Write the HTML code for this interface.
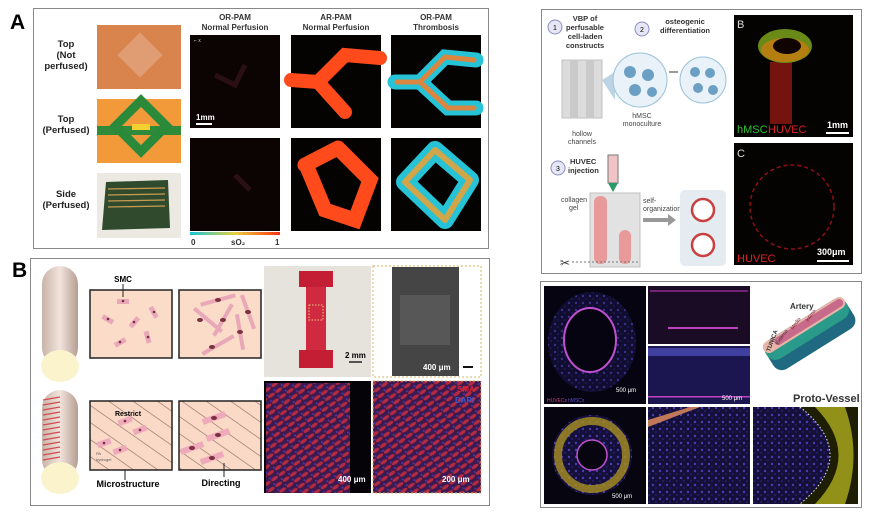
<!DOCTYPE html>
<html><head><meta charset="utf-8"><style>
html,body{margin:0;padding:0;background:#fff;width:890px;height:515px;overflow:hidden}
svg{display:block}
text{font-family:"Liberation Sans",Arial,sans-serif}
</style></head><body>
<svg width="890" height="515" viewBox="0 0 890 515" xmlns="http://www.w3.org/2000/svg">
<defs>
<linearGradient id="cbar" x1="0" x2="1"><stop offset="0" stop-color="#19c2d8"/><stop offset=".5" stop-color="#e8d040"/><stop offset="1" stop-color="#ff3010"/></linearGradient>
<linearGradient id="cyl" x1="0" x2="1"><stop offset="0" stop-color="#c9b3a8"/><stop offset=".5" stop-color="#f1e4dc"/><stop offset="1" stop-color="#b59d92"/></linearGradient>
<pattern id="diag" width="14" height="14" patternUnits="userSpaceOnUse" patternTransform="rotate(35)"><rect width="14" height="14" fill="#fad9c6"/><line x1="0" y1="0" x2="14" y2="0" stroke="#8a6a60" stroke-width="1.2"/></pattern>
<pattern id="cells" width="9" height="7" patternUnits="userSpaceOnUse" patternTransform="rotate(-35)"><rect width="9" height="7" fill="#3a1a50"/><ellipse cx="4.5" cy="3.5" rx="4" ry="1.8" fill="#b42a40"/><circle cx="1" cy="1" r="1" fill="#4a3ab0"/></pattern>
<pattern id="dots" width="7" height="7" patternUnits="userSpaceOnUse"><rect width="7" height="7" fill="#15103a"/><circle cx="2" cy="2" r="1.2" fill="#4a3cb0"/><circle cx="5" cy="5" r=".8" fill="#3028 90"/></pattern>
<pattern id="dots2" width="7" height="7" patternUnits="userSpaceOnUse"><rect width="7" height="7" fill="#15103a"/><circle cx="2" cy="2" r="1.2" fill="#4a3cb0"/><circle cx="5" cy="5" r=".8" fill="#302890"/></pattern>
</defs>

<!-- ===== Panel A ===== -->
<text x="10" y="29" font-size="21" font-weight="bold">A</text>
<rect x="33.5" y="8.5" width="455" height="240" fill="#fff" stroke="#888"/>
<g font-size="9.5" font-weight="bold" text-anchor="middle" fill="#222">
<text x="66" y="47">Top</text><text x="66" y="58">(Not</text><text x="66" y="69">perfused)</text>
<text x="66" y="122">Top</text><text x="66" y="133">(Perfused)</text>
<text x="66" y="197">Side</text><text x="66" y="208">(Perfused)</text>
</g>
<rect x="97" y="25" width="84" height="64" fill="#d8844c"/>
<rect x="124" y="39" width="32" height="32" transform="rotate(45 140 55)" fill="#e4a886" opacity=".7"/>
<rect x="97" y="99" width="84" height="64" fill="#f29a3a"/>
<rect x="97" y="126" width="84" height="9" fill="#2f8a3a"/>
<rect x="123" y="108" width="36" height="36" transform="rotate(45 141 126)" fill="none" stroke="#2a8a3a" stroke-width="9"/>
<rect x="132" y="124" width="18" height="6" fill="#f6d030"/>
<rect x="97" y="173" width="84" height="65" fill="#ece8e2"/>
<polygon points="106,182 168,180 170,228 102,230" fill="#2f4a2c"/>
<g stroke="#c89a50" stroke-width="1.3"><line x1="108" y1="189" x2="165" y2="188"/><line x1="108" y1="195" x2="165" y2="194"/><line x1="108" y1="201" x2="165" y2="200"/><line x1="108" y1="207" x2="165" y2="206"/></g>

<g font-size="8" font-weight="bold" text-anchor="middle" fill="#333">
<text x="235" y="20">OR-PAM</text><text x="235" y="30">Normal Perfusion</text>
<text x="336" y="20">AR-PAM</text><text x="336" y="30">Normal Perfusion</text>
<text x="436" y="20">OR-PAM</text><text x="436" y="30">Thrombosis</text>
</g>
<rect x="190" y="35" width="90" height="93" fill="#0c0303"/>
<path d="M215 75 L235 85 L245 65" stroke="#2a1014" stroke-width="5" fill="none"/>
<text x="194" y="42" font-size="5" fill="#ccc">⌐ x</text>
<line x1="196" y1="124" x2="212" y2="124" stroke="#fff" stroke-width="2"/>
<text x="196" y="120" font-size="8" font-weight="bold" fill="#fff">1mm</text>
<rect x="291" y="35" width="90" height="93" fill="#050202"/>
<path d="M291 80 L318 82 L345 55 L380 58 M318 82 L345 112" stroke="#ff4a1c" stroke-width="14" fill="none" stroke-linecap="round"/>
<rect x="391" y="35" width="90" height="93" fill="#050202"/>
<path d="M395 82 L420 82 L445 57 L476 60 M420 82 L448 108 L476 108" stroke="#26c2d6" stroke-width="15" fill="none" stroke-linecap="round"/>
<path d="M397 82 L420 82 L445 57 L474 60 M420 82 L448 108 L474 108" stroke="#f08030" stroke-width="5" fill="none" stroke-linecap="round" opacity=".9"/>
<rect x="190" y="138" width="90" height="93" fill="#0c0303"/>
<path d="M235 175 L250 190" stroke="#2a1014" stroke-width="5"/>
<rect x="291" y="138" width="90" height="93" fill="#050202"/>
<path d="M305 165 L338 148 M307 167 L325 210 L355 220 L370 180 L340 150" stroke="#ff4a1c" stroke-width="15" fill="none" stroke-linecap="round"/>
<rect x="391" y="138" width="90" height="93" fill="#050202"/>
<path d="M405 182 L435 150 L470 180 L445 220 Z" stroke="#26c2d6" stroke-width="18" fill="none" stroke-linejoin="round"/>
<path d="M405 182 L435 150 L470 180 L445 220 Z" stroke="#f0a030" stroke-width="6" fill="none" stroke-linejoin="round" opacity=".85"/>
<rect x="190" y="232" width="90" height="3" fill="url(#cbar)"/>
<g font-size="8" font-weight="bold" fill="#333"><text x="191" y="245">0</text><text x="231" y="245">sO₂</text><text x="275" y="245">1</text></g>

<!-- ===== Panel B ===== -->
<text x="12" y="277" font-size="21" font-weight="bold">B</text>
<rect x="30.5" y="258.5" width="459" height="247" fill="#fff" stroke="#888"/>
<rect x="42" y="266" width="36" height="100" rx="18" fill="url(#cyl)"/>
<ellipse cx="60" cy="366" rx="19" ry="16" fill="#fbf3cc"/>
<rect x="42" y="390" width="36" height="88" rx="18" fill="url(#cyl)"/>
<g stroke="#d24a50" stroke-width="1.2">
<line x1="43" y1="400" x2="60" y2="397"/><line x1="43" y1="405" x2="60" y2="402"/><line x1="43" y1="410" x2="60" y2="407"/><line x1="43" y1="415" x2="60" y2="412"/><line x1="43" y1="420" x2="60" y2="417"/><line x1="43" y1="425" x2="60" y2="422"/><line x1="43" y1="430" x2="60" y2="427"/><line x1="43" y1="435" x2="60" y2="432"/><line x1="43" y1="440" x2="60" y2="437"/><line x1="43" y1="445" x2="60" y2="442"/><line x1="43" y1="450" x2="60" y2="447"/><line x1="43" y1="455" x2="60" y2="452"/><line x1="43" y1="460" x2="60" y2="457"/></g>
<ellipse cx="60" cy="478" rx="19" ry="16" fill="#fbf3cc"/>
<rect x="90" y="290" width="82" height="68" fill="#fbdcc8" stroke="#222" stroke-width="1.5"/>
<rect x="179" y="290" width="82" height="68" fill="#fbdcc8" stroke="#222" stroke-width="1.5"/>
<g fill="#e8a8b8"><rect x="117" y="299" width="12" height="5"/><rect x="102" y="317" width="12" height="5" transform="rotate(30 108 319)"/><rect x="128" y="320" width="12" height="5" transform="rotate(-50 134 322)"/><rect x="148" y="310" width="12" height="5" transform="rotate(60 154 312)"/><rect x="114" y="340" width="12" height="5" transform="rotate(-30 120 342)"/><rect x="142" y="335" width="12" height="5" transform="rotate(75 148 337)"/></g>
<g fill="#7a3040"><circle cx="123" cy="301" r="1.3"/><circle cx="108" cy="319" r="1.3"/><circle cx="134" cy="322" r="1.3"/><circle cx="154" cy="312" r="1.3"/><circle cx="120" cy="342" r="1.3"/><circle cx="148" cy="337" r="1.3"/></g>
<g fill="#e8a8b8"><rect x="200" y="298" width="36" height="4" transform="rotate(-15 218 300)"/><rect x="190" y="318" width="36" height="4" transform="rotate(40 208 320)"/><rect x="205" y="318" width="36" height="4" transform="rotate(-60 223 320)"/><rect x="230" y="310" width="36" height="4" transform="rotate(70 248 312)"/><rect x="200" y="343" width="36" height="4" transform="rotate(-30 218 345)"/><rect x="222" y="330" width="36" height="4" transform="rotate(80 240 332)"/></g>
<g fill="#7a3040"><ellipse cx="218" cy="300" rx="3" ry="2"/><ellipse cx="200" cy="320" rx="3" ry="2"/><ellipse cx="223" cy="320" rx="3" ry="2"/><ellipse cx="248" cy="312" rx="3" ry="2"/><ellipse cx="212" cy="347" rx="3" ry="2"/><ellipse cx="240" cy="332" rx="3" ry="2"/></g>
<text x="123" y="282" font-size="8" font-weight="bold" text-anchor="middle">SMC</text>
<line x1="123" y1="284" x2="123" y2="297" stroke="#222"/>
<rect x="90" y="401" width="82" height="69" fill="url(#diag)" stroke="#222" stroke-width="1.5"/>
<rect x="179" y="401" width="82" height="69" fill="url(#diag)" stroke="#222" stroke-width="1.5"/>
<g fill="#eeaabb"><rect x="118" y="418" width="14" height="6" transform="rotate(-20 125 421)"/><rect x="133" y="427" width="14" height="6" transform="rotate(-20 140 430)"/><rect x="97" y="440" width="14" height="6" transform="rotate(-20 104 443)"/><rect x="113" y="447" width="14" height="6" transform="rotate(-20 120 450)"/>
<rect x="202" y="415" width="24" height="6" transform="rotate(-20 214 418)"/><rect x="206" y="432" width="24" height="6" transform="rotate(-20 218 435)"/><rect x="180" y="445" width="24" height="6" transform="rotate(-20 192 448)"/><rect x="200" y="455" width="24" height="6" transform="rotate(-20 212 458)"/></g>
<g fill="#7a3040"><circle cx="125" cy="421" r="1.3"/><circle cx="140" cy="430" r="1.3"/><circle cx="104" cy="443" r="1.3"/><circle cx="120" cy="450" r="1.3"/><ellipse cx="214" cy="418" rx="3" ry="2"/><ellipse cx="218" cy="435" rx="3" ry="2"/><ellipse cx="192" cy="448" rx="3" ry="2"/><ellipse cx="212" cy="458" rx="3" ry="2"/></g>
<text x="128" y="416" font-size="7" font-weight="bold" text-anchor="middle">Restrict</text>
<text x="96" y="455" font-size="4" fill="#555">PA</text><text x="96" y="461" font-size="4" fill="#555">hydrogel</text>
<text x="128" y="487" font-size="9" font-weight="bold" text-anchor="middle">Microstructure</text>
<line x1="125" y1="470" x2="125" y2="480" stroke="#222"/>
<text x="221" y="486" font-size="9" font-weight="bold" text-anchor="middle">Directing</text>
<line x1="224" y1="463" x2="224" y2="477" stroke="#222"/>
<rect x="264" y="266" width="107" height="111" fill="#e6e3dd"/>
<rect x="306" y="282" width="20" height="76" fill="#cf2a40"/>
<rect x="299" y="271" width="34" height="16" fill="#c41e34"/><rect x="299" y="350" width="34" height="18" fill="#c41e34"/>
<rect x="309" y="305" width="14" height="15" fill="none" stroke="#e8c880" stroke-dasharray="1.5 1.5"/>
<line x1="349" y1="362" x2="362" y2="362" stroke="#222" stroke-width="1.5"/>
<text x="345" y="358" font-size="8" font-weight="bold">2 mm</text>
<rect x="373" y="266" width="108" height="111" fill="#fff" stroke="#d6b46a" stroke-dasharray="2 2"/>
<rect x="392" y="267" width="67" height="109" fill="#454545"/>
<rect x="400" y="295" width="50" height="50" fill="#6a6a6a" opacity=".5"/>
<text x="423" y="370" font-size="8" font-weight="bold" fill="#fff">400 μm</text>
<line x1="463" y1="367" x2="473" y2="367" stroke="#111" stroke-width="2"/>
<rect x="264" y="381" width="107" height="112" fill="#050208"/>
<rect x="266" y="383" width="84" height="110" fill="url(#cells)"/>
<rect x="373" y="381" width="108" height="112" fill="url(#cells)" stroke="#d6b46a" stroke-dasharray="2 2"/>
<text x="457" y="392" font-size="8" font-weight="bold" fill="#e02030">SMA</text>
<text x="455" y="403" font-size="8" font-weight="bold" fill="#3a5ad0">DAPI</text>
<text x="338" y="482" font-size="8" font-weight="bold" fill="#fff">400 μm</text>
<text x="442" y="482" font-size="8" font-weight="bold" fill="#fff">200 μm</text>

<!-- ===== Panel C ===== -->
<text x="545" y="28" font-size="21" font-weight="bold">C</text>
<rect x="541.5" y="9.5" width="320" height="264" fill="#fff" stroke="#888"/>
<circle cx="555" cy="27" r="7" fill="#e6e6f6" stroke="#8b8bc0"/><text x="555" y="30" font-size="7" text-anchor="middle">1</text>
<g font-size="7.5" font-weight="bold" text-anchor="middle" fill="#333"><text x="585" y="21">VBP of</text><text x="585" y="30">perfusable</text><text x="585" y="39">cell-laden</text><text x="585" y="48">constructs</text></g>
<circle cx="642" cy="29" r="7" fill="#e6e6f6" stroke="#8b8bc0"/><text x="642" y="32" font-size="7" text-anchor="middle">2</text>
<g font-size="7.5" font-weight="bold" text-anchor="middle" fill="#333"><text x="685" y="24">osteogenic</text><text x="685" y="33">differentiation</text></g>
<rect x="562" y="60" width="40" height="58" fill="#dcdcdc" stroke="#c0c0c0"/>
<rect x="570" y="60" width="8" height="58" fill="#cacaca"/><rect x="586" y="60" width="8" height="58" fill="#cacaca"/>
<polygon points="602,80 615,72 615,100" fill="#bcd4e4"/>
<circle cx="640" cy="80" r="27" fill="#e8f2f8" stroke="#9ac0d8"/>
<circle cx="630" cy="72" r="6" fill="#6ba0c4"/><circle cx="648" cy="75" r="6" fill="#6ba0c4"/><circle cx="635" cy="90" r="6" fill="#6ba0c4"/><circle cx="652" cy="92" r="5" fill="#6ba0c4"/>
<line x1="669" y1="72" x2="678" y2="72" stroke="#333"/>
<circle cx="703" cy="80" r="23" fill="#e8f2f8" stroke="#9ac0d8"/>
<circle cx="695" cy="72" r="5" fill="#6ba0c4"/><circle cx="710" cy="73" r="5" fill="#6ba0c4"/><circle cx="698" cy="88" r="5" fill="#6ba0c4"/><circle cx="713" cy="90" r="5" fill="#6ba0c4"/>
<g font-size="7" text-anchor="middle" fill="#444"><text x="642" y="118">hMSC</text><text x="642" y="126">monoculture</text><text x="582" y="136">hollow</text><text x="582" y="144">channels</text></g>
<circle cx="558" cy="168" r="7" fill="#e6e6f6" stroke="#8b8bc0"/><text x="558" y="171" font-size="7" text-anchor="middle">3</text>
<g font-size="7.5" font-weight="bold" fill="#333"><text x="570" y="164">HUVEC</text><text x="568" y="173">injection</text></g>
<rect x="608" y="155" width="10" height="28" fill="#f0c4c4" stroke="#777"/><polygon points="608,183 618,183 613,192" fill="#2a9a6a"/>
<rect x="590" y="193" width="50" height="74" fill="#e2e2e2" stroke="#c0c0c0"/>
<rect x="594" y="196" width="13" height="68" rx="6" fill="#e89a9a"/><rect x="619" y="230" width="12" height="34" rx="6" fill="#e89a9a"/>
<g font-size="7" fill="#444"><text x="561" y="202">collagen</text><text x="569" y="210">gel</text><text x="643" y="203">self-</text><text x="643" y="211">organization</text></g>
<polygon points="643,218 668,218 668,214 676,220 668,226 668,222 643,222" fill="#999"/>
<rect x="680" y="190" width="46" height="76" rx="5" fill="#e4ecf2"/>
<circle cx="703" cy="210" r="11" fill="#fff" stroke="#c84040" stroke-width="2.5"/><circle cx="703" cy="245" r="11" fill="#fff" stroke="#c84040" stroke-width="2.5"/>
<text x="560" y="267" font-size="12" fill="#333">✂</text>
<line x1="572" y1="262" x2="640" y2="262" stroke="#777" stroke-dasharray="2 2"/>
<rect x="734" y="15" width="119" height="122" fill="#050202"/>
<rect x="770" y="62" width="22" height="62" fill="#8a1810" opacity=".85"/>
<ellipse cx="785" cy="46" rx="27" ry="17" fill="#6a8a18"/><ellipse cx="785" cy="50" rx="24" ry="12" fill="#c87a10" opacity=".8"/><ellipse cx="787" cy="46" rx="14" ry="8" fill="#100402"/>
<text x="737" y="133" font-size="11" fill="#2ec02e">hMSC</text><text x="768" y="133" font-size="11" fill="#e02020">HUVEC</text>
<text x="827" y="128" font-size="9" font-weight="bold" fill="#fff">1mm</text>
<line x1="826" y1="133" x2="849" y2="133" stroke="#fff" stroke-width="2"/>
<text x="737" y="28" font-size="11" fill="#ddd">B</text>
<rect x="734" y="143" width="119" height="122" fill="#050202"/>
<circle cx="792" cy="207" r="42" fill="none" stroke="#901010" stroke-width="1.5" stroke-dasharray="4 3"/>
<text x="737" y="157" font-size="11" fill="#ddd">C</text>
<text x="737" y="262" font-size="11" fill="#e02020">HUVEC</text>
<text x="817" y="255" font-size="9" font-weight="bold" fill="#fff">300μm</text>
<line x1="817" y1="261" x2="849" y2="261" stroke="#fff" stroke-width="2"/>

<!-- ===== Panel D ===== -->
<text x="540" y="303" font-size="21" font-weight="bold">D</text>
<rect x="540.5" y="281.5" width="321" height="226" fill="#fff" stroke="#888"/>
<rect x="544" y="286" width="102" height="118" fill="#050410"/>
<ellipse cx="592" cy="342" rx="44" ry="50" fill="url(#dots2)" opacity=".75"/>
<ellipse cx="590" cy="340" rx="26" ry="32" fill="#050410" stroke="#c050d0" stroke-width="2"/>
<text x="616" y="392" font-size="6" fill="#fff">500 μm</text>
<text x="547" y="402" font-size="5" fill="#c04080">HUVECs</text><text x="568" y="402" font-size="5" fill="#5a50d0">hMSCs</text>
<rect x="648" y="286" width="102" height="58" fill="#1a0c24"/>
<rect x="650" y="290" width="98" height="2" fill="#b030b0" opacity=".6"/><rect x="668" y="327" width="70" height="2" fill="#c040c0"/>
<rect x="648" y="346" width="102" height="58" fill="#1c1650"/>
<rect x="648" y="348" width="102" height="8" fill="#4040a0"/><rect x="648" y="396" width="102" height="1.5" fill="#c040c0"/>
<text x="722" y="400" font-size="6" fill="#fff">500 μm</text>
<g transform="rotate(-32 805 335)">
<rect x="762" y="320" width="95" height="34" rx="10" fill="#1f6a80"/>
<rect x="762" y="320" width="95" height="22" rx="10" fill="#2a9a8a"/>
<rect x="762" y="320" width="95" height="12" rx="6" fill="#e8b6a8"/>
<rect x="775" y="322" width="80" height="8" rx="4" fill="#c86a8a"/>
</g>
<text x="790" y="309" font-size="8" font-weight="bold" fill="#333">Artery</text>
<text x="770" y="352" font-size="6" font-weight="bold" fill="#333" transform="rotate(-70 770 352)">TUNICA</text>
<text x="778" y="345" font-size="5" fill="#333" transform="rotate(-55 778 345)">Externa</text>
<text x="793" y="330" font-size="5" fill="#7a2030" transform="rotate(-55 793 330)">Media</text>
<text x="808" y="322" font-size="5" fill="#7a2030" transform="rotate(-55 808 322)">Intima</text>
<text x="793" y="402" font-size="11" font-weight="bold" fill="#333">Proto-Vessel</text>
<rect x="544" y="407" width="102" height="97" fill="#070510"/>
<circle cx="592" cy="455" r="40" fill="url(#dots2)"/>
<circle cx="592" cy="455" r="34" fill="none" stroke="#a89020" stroke-width="8" opacity=".8"/>
<circle cx="592" cy="455" r="15" fill="#070510" stroke="#c050d0" stroke-width="1.5"/>
<text x="612" y="498" font-size="6" fill="#fff">500 μm</text>
<rect x="648" y="407" width="102" height="97" fill="url(#dots2)"/>
<polygon points="648,420 690,407 700,407 648,427" fill="#c07858"/>
<rect x="753" y="407" width="105" height="97" fill="url(#dots2)"/>
<path d="M800 407 Q860 455 800 504 L858 504 L858 407 Z" fill="#1e1e05"/>
<path d="M815 407 Q862 455 815 504 L845 504 Q862 455 845 407 Z" fill="#b8b820" opacity=".75"/>
<path d="M800 407 Q860 455 800 504" fill="none" stroke="#eee" stroke-dasharray="1.5 2"/>
</svg>
</body></html>
